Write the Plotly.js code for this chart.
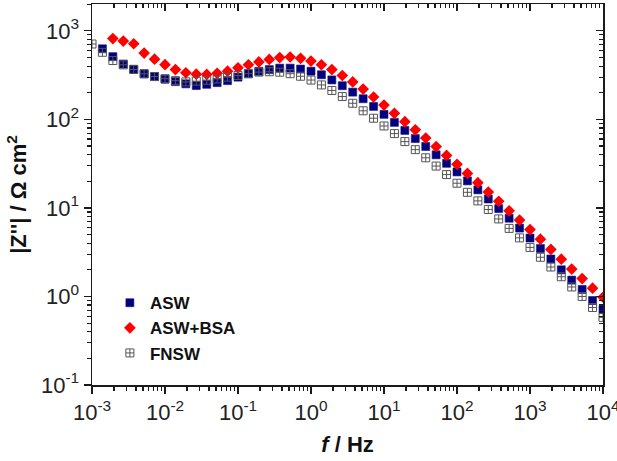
<!DOCTYPE html>
<html><head><meta charset="utf-8">
<script src="https://cdn.plot.ly/plotly-3.0.1.min.js"></script>
<style>html,body{margin:0;padding:0;background:#fff}#chart{width:617px;height:461px}</style>
</head><body><div id="chart"></div>
<script>
// Frequencies (Hz), 7 points per decade, 1 mHz .. 10 kHz
const freq = [
  1.000e-3, 1.389e-3, 1.931e-3, 2.683e-3, 3.728e-3, 5.179e-3, 7.197e-3,
  1.000e-2, 1.389e-2, 1.931e-2, 2.683e-2, 3.728e-2, 5.179e-2, 7.197e-2,
  0.1, 0.1389, 0.1931, 0.2683, 0.3728, 0.5179, 0.7197,
  1, 1.389, 1.931, 2.683, 3.728, 5.179, 7.197,
  10, 13.89, 19.31, 26.83, 37.28, 51.79, 71.97,
  100, 138.9, 193.1, 268.3, 372.8, 517.9, 719.7,
  1000, 1389, 1931, 2683, 3728, 5179, 7197,
  10000
];
// |Z''| values (Ohm cm^2)
const aswZ = [627, 511, 422, 368, 327, 304, 284, 267, 252, 241, 249, 260, 274, 300, 327, 349, 365, 379, 379, 370,
  350, 319, 279, 240, 203, 171, 140, 114, 92.5, 75.0, 60.7, 49.4, 39.8, 31.9, 25.5, 20.2, 16.0, 12.6, 9.82, 7.65,
  5.92, 4.57, 3.48, 2.65, 2.00, 1.53, 1.20, 0.90, 0.71];
const bsaZ = [818, 766, 715, 560, 479, 415, 365, 336, 324, 322, 331, 350, 382, 414, 446, 475, 499, 506, 489, 455,
  414, 365, 313, 265, 220, 179, 145, 117, 94.2, 76.1, 61.6, 49.3, 39.2, 31.1, 24.5, 19.3, 15.1, 11.9, 9.27, 7.28,
  5.70, 4.43, 3.40, 2.64, 2.04, 1.59, 1.24, 0.98];
const fnswZ = [710, 572, 462, 413, 366, 327, 305, 288, 274, 265, 270, 277, 286, 300, 313, 329, 342, 345, 341, 328,
  307, 278, 245, 212, 181, 152, 125, 103, 84.2, 69.1, 56.1, 45.5, 36.8, 29.7, 23.8, 19.0, 15.0, 12.0, 9.60, 7.51,
  5.87, 4.59, 3.58, 2.77, 2.15, 1.67, 1.28, 1.00, 0.75, 0.58];
const seriesNames = ['ASW', 'ASW+BSA', 'FNSW'];
const xTickVals = [1e-3, 1e-2, 0.1, 1, 10, 100, 1000, 10000];
const xTickText = ['10<sup>-3</sup>', '10<sup>-2</sup>', '10<sup>-1</sup>', '10<sup>0</sup>', '10<sup>1</sup>', '10<sup>2</sup>', '10<sup>3</sup>', '10<sup>4</sup>'];
const yTickVals = [0.1, 1, 10, 100, 1000];
const yTickText = ['10<sup>-1</sup>', '10<sup>0</sup>', '10<sup>1</sup>', '10<sup>2</sup>', '10<sup>3</sup>'];

function minorVals(lo, hi) {
  const v = [];
  for (let e = lo; e < hi; e++) for (let m = 2; m <= 9; m++) v.push(m * Math.pow(10, e));
  return v;
}
const FONT = 'Liberation Sans, Arial, sans-serif';
const AX = '#1a1a1a';

const traces = [
  {x: freq.slice(1), y: aswZ, name: seriesNames[0], type: 'scatter', mode: 'markers',
   marker: {symbol: 'square', size: 8, color: '#000080', line: {width: 0.6, color: '#1a1a7a'}}},
  {x: freq.slice(2), y: bsaZ, name: seriesNames[1], type: 'scatter', mode: 'markers',
   marker: {symbol: 'diamond', size: 9, color: '#ff0000'}},
  {x: freq, y: fnswZ, name: seriesNames[2], type: 'scatter', mode: 'markers',
   marker: {symbol: 'square-cross-open', size: 8, color: '#555555', line: {width: 1, color: '#555555'}}},
  {x: [], y: [], xaxis: 'x2', yaxis: 'y2', showlegend: false, hoverinfo: 'skip', type: 'scatter', mode: 'markers'}
];

const baseX = {type: 'log', range: [-3, 4], showgrid: false, zeroline: false, showline: true,
  linecolor: AX, linewidth: 1.5};
const baseY = {type: 'log', range: [-1, 3.303], showgrid: false, zeroline: false, showline: true,
  linecolor: AX, linewidth: 1.5};

const layout = {
  width: 617, height: 461,
  margin: {l: 92, r: 14, t: 4, b: 76},
  paper_bgcolor: '#fff', plot_bgcolor: '#fff',
  font: {family: FONT, color: '#222'},
  showlegend: true,
  legend: {x: 0.035, y: 0.262, xanchor: 'left', yanchor: 'top', bgcolor: 'rgba(0,0,0,0)',
    font: {family: FONT, size: 17, weight: 'bold', color: '#111'}},
  xaxis: Object.assign({}, baseX, {
    tickmode: 'array', tickvals: xTickVals, ticktext: xTickText, ticklabeloverflow: 'allow',
    ticks: 'outside', ticklen: 7, tickwidth: 1.3, tickcolor: AX,
    tickfont: {family: FONT, size: 22, color: '#222'},
    minor: {tickmode: 'array', tickvals: minorVals(-3, 4), ticks: 'outside', ticklen: 4, tickwidth: 1.1, tickcolor: AX, showgrid: false},
    title: {text: '<b><i>f</i> / Hz</b>', font: {family: FONT, size: 22, color: '#111'}, standoff: 12}
  }),
  yaxis: Object.assign({}, baseY, {
    tickmode: 'array', tickvals: yTickVals, ticktext: yTickText, ticklabeloverflow: 'allow',
    ticks: 'outside', ticklen: 7, tickwidth: 1.3, tickcolor: AX,
    tickfont: {family: FONT, size: 22, color: '#222'},
    minor: {tickmode: 'array', tickvals: minorVals(-1, 4), ticks: 'outside', ticklen: 4, tickwidth: 1.1, tickcolor: AX, showgrid: false},
    title: {text: "<b>|Z''| / Ω cm<sup>2</sup></b>", font: {family: FONT, size: 22, color: '#111'}, standoff: 8}
  }),
  xaxis2: Object.assign({}, baseX, {overlaying: 'x', side: 'top', anchor: 'y2',
    tickmode: 'array', tickvals: xTickVals, ticks: 'inside', ticklen: 7, tickwidth: 1.3, tickcolor: AX, showticklabels: false,
    minor: {tickmode: 'array', tickvals: minorVals(-3, 4), ticks: 'inside', ticklen: 4, tickwidth: 1.1, tickcolor: AX, showgrid: false}}),
  yaxis2: Object.assign({}, baseY, {overlaying: 'y', side: 'right', anchor: 'x2',
    tickmode: 'array', tickvals: yTickVals, ticks: 'inside', ticklen: 7, tickwidth: 1.3, tickcolor: AX, showticklabels: false,
    minor: {tickmode: 'array', tickvals: minorVals(-1, 4), ticks: 'inside', ticklen: 4, tickwidth: 1.1, tickcolor: AX, showgrid: false}})
};

Plotly.newPlot('chart', traces, layout, {staticPlot: true, displayModeBar: false});
</script>
</body></html>
